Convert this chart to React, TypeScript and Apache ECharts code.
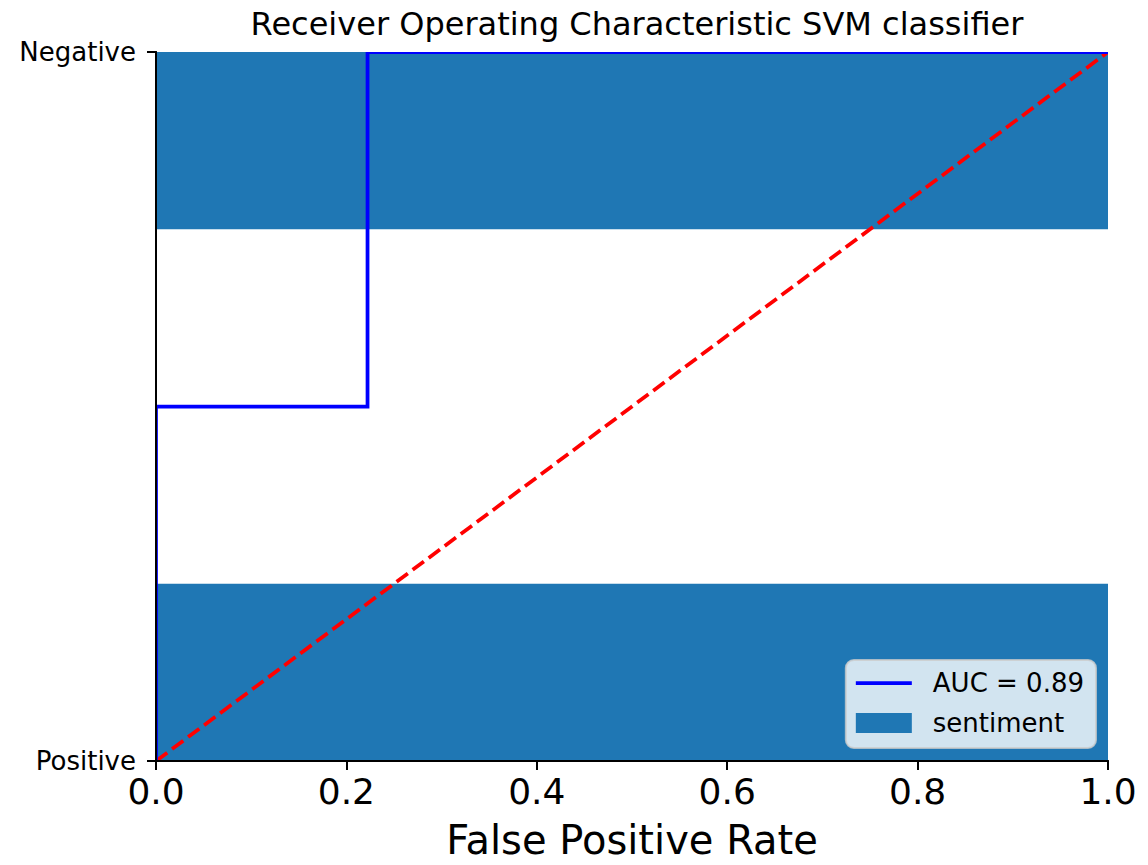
import React, { useEffect, useRef } from "react";
import * as echarts from "echarts";

const chartTitle = "Receiver Operating Characteristic SVM classifier";
const xAxisTitle = "False Positive Rate";
const sentimentCategories = ["Positive", "Negative"];
const sentimentPositions = [0, 1];
const sentimentValues = [1, 1];
const fpr = [0, 0, 0.2222, 0.2222, 1];
const tpr = [0, 0.5, 0.5, 1, 1];
const chanceX = [0, 1];
const chanceY = [0, 1];
const rocName = "AUC = 0.89";
const barName = "sentiment";
const barHeight = 0.5;

const FONT = "DejaVu Sans";

export default function App() {
  const ref = useRef<HTMLDivElement>(null);
  useEffect(() => {
    if (!ref.current) return;
    const chart = echarts.init(ref.current, undefined, { renderer: "svg" });
    const barData = sentimentPositions.map((p, i) => [p, sentimentValues[i]]);
    const rocData = fpr.map((x, i) => [x, tpr[i]]);
    const chanceData = chanceX.map((x, i) => [x, chanceY[i]]);
    const axisLine = { show: true, lineStyle: { color: "#000", width: 2 } };
    const clipToGrid = (cs: any) => ({ x: cs.x, y: cs.y, width: cs.width, height: cs.height });
    chart.setOption({
      animation: false,
      backgroundColor: "#fff",
      title: {
        text: chartTitle,
        left: 632,
        textAlign: "center",
        top: 3,
        textStyle: { fontSize: 32, fontWeight: "normal", color: "#000", fontFamily: FONT },
      },
      grid: { left: 156, right: 40, top: 52, bottom: 103 },
      legend: {
        orient: "vertical",
        right: 52,
        bottom: 117,
        data: [
          { name: rocName, icon: "path://M0,0H56V3.75H0Z", itemStyle: { color: "#0000ff", borderWidth: 0 } },
          { name: barName, icon: "rect", itemStyle: { color: "#1f77b4", borderWidth: 0 } },
        ],
        itemWidth: 56,
        itemHeight: 20,
        itemGap: 14,
        symbolKeepAspect: true,
        backgroundColor: "rgba(255,255,255,0.8)",
        borderColor: "rgba(204,204,204,0.8)",
        borderWidth: 2,
        borderRadius: 8,
        padding: [10, 12, 12, 10],
        selectedMode: false,
        textStyle: { fontSize: 26, color: "#000", fontFamily: FONT, padding: [0, 0, 0, 16] },
      },
      xAxis: [
        {
          type: "value",
          min: 0,
          max: 1,
          interval: 0.2,
          z: 10,
          name: xAxisTitle,
          nameLocation: "middle",
          nameGap: 59,
          nameTextStyle: { fontSize: 40, color: "#000", fontFamily: FONT },
          axisLine,
          axisTick: { show: true, inside: false, length: 9, lineStyle: { color: "#000", width: 2 } },
          axisLabel: {
            fontSize: 36,
            color: "#000",
            fontFamily: FONT,
            margin: 12,
            formatter: (v: number) => v.toFixed(1),
          },
          splitLine: { show: false },
        },
        {
          type: "value",
          position: "top",
          min: 0,
          max: 1,
          z: 10,
          axisLine,
          axisTick: { show: false },
          axisLabel: { show: false },
          splitLine: { show: false },
        },
      ],
      yAxis: [
        {
          type: "value",
          min: 0,
          max: 1,
          interval: 1,
          z: 10,
          axisLine,
          axisTick: { show: true, inside: false, length: 9, lineStyle: { color: "#000", width: 2 } },
          axisLabel: {
            fontSize: 26,
            color: "#000",
            fontFamily: FONT,
            margin: 20,
            formatter: (v: number) => {
              const idx = sentimentPositions.indexOf(v);
              return idx >= 0 ? sentimentCategories[idx] : "";
            },
          },
          splitLine: { show: false },
        },
        {
          type: "value",
          position: "right",
          min: 0,
          max: 1,
          z: 10,
          axisLine,
          axisTick: { show: false },
          axisLabel: { show: false },
          splitLine: { show: false },
        },
      ],
      series: [
        {
          // legend entry for the ROC curve (drawn by the custom series below)
          name: rocName,
          type: "line",
          data: [],
          symbol: "none",
          lineStyle: { color: "#0000ff", width: 3.75 },
          itemStyle: { color: "#0000ff" },
        },
        {
          name: barName,
          type: "custom",
          z: 1,
          clip: true,
          encode: { x: 1, y: 0 },
          data: barData,
          itemStyle: { color: "#1f77b4" },
          renderItem: (params: any, api: any) => {
            const pos = api.value(0);
            const len = api.value(1);
            const p0 = api.coord([0, pos + barHeight / 2]);
            const p1 = api.coord([len, pos - barHeight / 2]);
            const rect = echarts.graphic.clipRectByRect(
              { x: p0[0], y: p0[1], width: p1[0] - p0[0], height: p1[1] - p0[1] },
              clipToGrid(params.coordSys)
            );
            return rect ? { type: "rect", shape: rect, style: { fill: "#1f77b4" } } : null;
          },
        },
        {
          name: "roc-curve",
          type: "custom",
          z: 3,
          clip: true,
          encode: { x: 0, y: 1 },
          data: rocData,
          renderItem: (params: any, api: any) => {
            if (params.dataIndex !== 0) return null;
            const pts = rocData.map((p) => api.coord(p));
            return {
              type: "polyline",
              shape: { points: pts },
              style: { stroke: "#0000ff", lineWidth: 3.75, fill: null, lineJoin: "miter" },
            };
          },
        },
        {
          name: "chance",
          type: "custom",
          z: 2,
          clip: true,
          encode: { x: 0, y: 1 },
          data: chanceData,
          renderItem: (params: any, api: any) => {
            if (params.dataIndex !== 0) return null;
            const pts = chanceData.map((p) => api.coord(p));
            return {
              type: "polyline",
              shape: { points: pts },
              style: { stroke: "#ff0000", lineWidth: 3.75, fill: null, lineDash: [14, 6] },
            };
          },
        },
      ],
    });
    return () => chart.dispose();
  }, []);
  return (
    <div
      ref={ref}
      style={{ position: "fixed", left: 0, top: 0, width: 1148, height: 865, background: "#fff" }}
    />
  );
}
